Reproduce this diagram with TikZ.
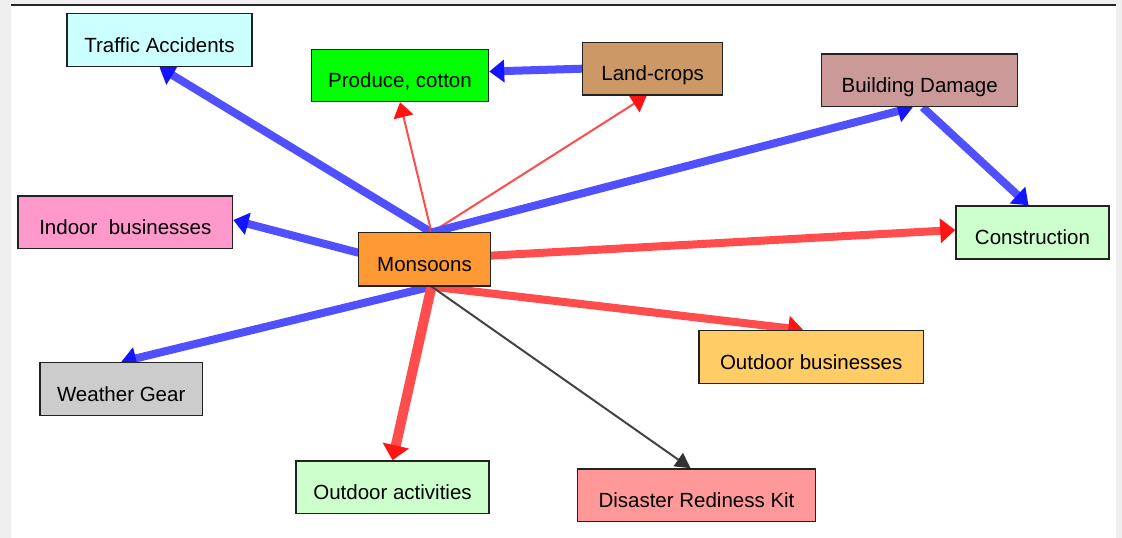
\documentclass[tikz,border=0pt]{standalone}
\usepackage{fontspec}
\setmainfont{Liberation Sans}
\usetikzlibrary{arrows.meta}
\pgfdeclarelayer{bg}
\pgfsetlayers{bg,main}
\definecolor{bgout}{HTML}{EFEFEF}
\definecolor{boxline}{HTML}{222222}
\definecolor{cTA}{HTML}{CCFFFF}
\definecolor{cPC}{HTML}{00FF00}
\definecolor{cLC}{HTML}{CC9966}
\definecolor{cBD}{HTML}{CC9999}
\definecolor{cCO}{HTML}{CCFFCC}
\definecolor{cIB}{HTML}{FF99CC}
\definecolor{cMO}{HTML}{FF9933}
\definecolor{cWG}{HTML}{CCCCCC}
\definecolor{cOB}{HTML}{FFCC66}
\definecolor{cOA}{HTML}{CCFFCC}
\definecolor{cDK}{HTML}{FF9999}
\definecolor{lineblue}{HTML}{5050FF}
\definecolor{headblue}{HTML}{1414FF}
\definecolor{linered}{HTML}{FF4C4C}
\definecolor{headred}{HTML}{FF1414}
\definecolor{linegrey}{HTML}{444444}
\definecolor{headgrey}{HTML}{333333}
\begin{document}
\begin{tikzpicture}[x=1pt,y=-1pt,
  box/.style={draw=boxline, line width=1.5pt, inner sep=0pt,
    font=\fontsize{20.5}{24}\selectfont, text height=24pt, text depth=0pt},
  blueedge/.style={draw=lineblue, line width=8pt,
    -{Triangle[length=15pt,width=22pt,color=headblue]}},
  redthick/.style={draw=linered, line width=8pt,
    -{Triangle[length=15pt,width=24pt,color=headred]}},
  redthicker/.style={draw=linered, line width=10pt,
    -{Triangle[length=15pt,width=26pt,color=headred]}},
  redthin/.style={draw=linered, line width=2pt,
    -{Triangle[length=15pt,width=20pt,color=headred]}},
  greyedge/.style={draw=linegrey, line width=2pt,
    -{Triangle[length=15pt,width=16pt,color=headgrey]}}]
\useasboundingbox (0,0) rectangle (1122,538);
\begin{pgfonlayer}{bg}
\fill[bgout] (0,0) rectangle (1122,538);
\fill[white] (11,6) rectangle (1116,538);
\draw[line width=2pt, black!85] (11,5) -- (1116,5);
\end{pgfonlayer}

\node[box, fill=cTA, minimum width=185pt, minimum height=53pt] (ta) at (159.5,40) {Traffic Accidents};
\node[box, fill=cPC, minimum width=177pt, minimum height=52pt] (pc) at (400,75.5) {Produce, cotton};
\node[box, fill=cLC, minimum width=140pt, minimum height=52.5pt] (lc) at (652.7,68.7) {Land-crops};
\node[box, fill=cBD, minimum width=196pt, minimum height=52.5pt] (bd) at (919.7,80.3) {Building Damage};
\node[box, fill=cCO, minimum width=153pt, minimum height=53pt] (co) at (1032.5,232.5) {Construction};
\node[box, fill=cIB, minimum width=214.5pt, minimum height=52.5pt] (ib) at (125.3,222.3) {Indoor\ \ businesses};
\node[box, fill=cMO, minimum width=132.4pt, minimum height=53.3pt] (mo) at (424.5,259.3) {Monsoons};
\node[box, fill=cWG, minimum width=162.3pt, minimum height=53pt] (wg) at (121.2,389.2) {Weather Gear};
\node[box, fill=cOB, minimum width=224.3pt, minimum height=53pt] (ob) at (811.2,357.2) {Outdoor businesses};
\node[box, fill=cOA, minimum width=193pt, minimum height=52.7pt] (oa) at (392.5,487.3) {Outdoor activities};
\node[box, fill=cDK, minimum width=238.4pt, minimum height=52.7pt] (dk) at (696.5,495.3) {Disaster Rediness Kit};

\coordinate (mt) at (431.5,232.5);
\coordinate (mb) at (431.5,286.5);
\coordinate (ibs) at ([yshift=-10.7pt]mo.center);

\begin{pgfonlayer}{bg}
\draw[blueedge] (mt) -- (ta.south);
\draw[redthin] (mt) -- (pc.south);
\draw[redthin] (mt) -- ([xshift=-6pt]lc.south);
\draw[blueedge] (mt) -- ([xshift=-7pt]bd.south);
\draw[blueedge] (lc.west) -- ([yshift=4pt]pc.east);
\draw[blueedge] ([xshift=3pt]bd.south) -- ([xshift=-4pt]co.north);
\draw[blueedge] (ibs) -- ([yshift=2.3pt]ib.east);
\draw[redthick] (mo.center) -- ([yshift=2.5pt]co.west);
\draw[blueedge] (mb) -- (wg.north);
\draw[redthicker] (mb) -- (oa.north);
\draw[redthick] (mb) -- ([xshift=-8pt]ob.north);
\draw[greyedge] (mb) -- ([xshift=-6pt]dk.north);
\end{pgfonlayer}
\end{tikzpicture}
\end{document}
